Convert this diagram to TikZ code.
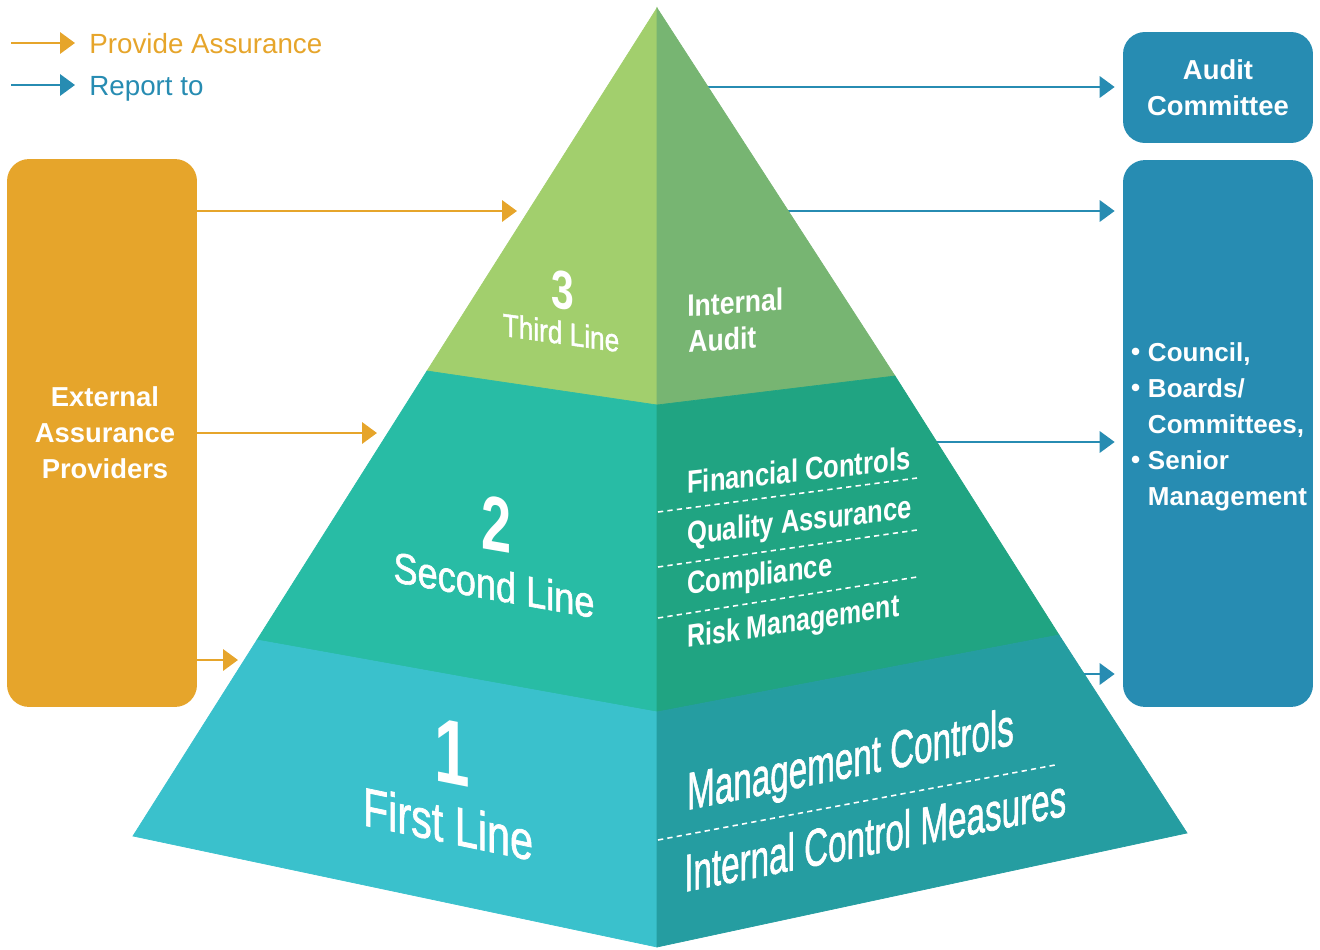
\documentclass[tikz,border=0pt]{standalone}
\usepackage{fontspec}
\setmainfont{Liberation Sans}
\newfontfamily\semibf[FakeBold=1.4]{Liberation Sans}
\usetikzlibrary{arrows.meta}
\definecolor{gThreeL}{HTML}{A2CF6D}
\definecolor{gThreeR}{HTML}{77B572}
\definecolor{gTwoL}{HTML}{28BCA5}
\definecolor{gTwoR}{HTML}{20A482}
\definecolor{gOneL}{HTML}{3AC1CC}
\definecolor{gOneR}{HTML}{259DA1}
\definecolor{orangeA}{HTML}{E6A52B}
\definecolor{blueA}{HTML}{278CB2}
\tikzset{
  oarr/.style={draw=orangeA, line width=1.7pt, -{Triangle[length=8.5pt,width=12pt]}},
  barr/.style={draw=blueA, line width=1.7pt, -{Triangle[length=8.5pt,width=12pt]}},
  rbox/.style={rounded corners=0.44cm, inner sep=0pt, text=white, align=center,
    font=\bfseries\fontsize{15.6}{20.5}\selectfont, minimum width=3.8cm},
  dline/.style={draw=white, line width=0.9pt, dash pattern=on 3pt off 2.4pt},
  wlbl/.style={text=white, inner sep=0pt},
  facepart/.style={line width=0.4pt}
}
\newcommand{\blt}{\makebox[0.65em][l]{\raisebox{0.05em}{•}}}
\newcommand{\bind}{\hspace*{0.65em}}
\begin{document}
\begin{tikzpicture}[x=0.02cm,y=-0.02cm]
\useasboundingbox (0,0) rectangle (1320,950);
% pyramid points
\coordinate (A) at (657,8);
\coordinate (L32) at (427,371);
\coordinate (C32) at (657,405);
\coordinate (R32) at (895,376);
\coordinate (L21) at (257,640);
\coordinate (C21) at (657,712);
\coordinate (R21) at (1059,635);
\coordinate (BL) at (133,836);
\coordinate (BC) at (657,947);
\coordinate (BR) at (1187,833);

% boxes
\node[rbox, fill=orangeA, minimum height=10.96cm] (ext) at (102,433) {};
\node[wlbl, align=center, font=\bfseries\fontsize{15.6}{20.5}\selectfont] (extt) at (105,433)
  {External\\Assurance\\Providers};
\node[rbox, fill=blueA, minimum height=2.22cm] (ac) at (1218,87.5)
  {Audit\\Committee};
\node[rbox, fill=blueA, minimum height=10.94cm] (cb) at (1218,433.5) {};
\node[wlbl, align=left, font=\bfseries\fontsize{14.8}{20.5}\selectfont] (cbt) at (1219,427)
  {\blt Council,\\\blt Boards/\\\bind Committees,\\\blt Senior\\\bind Management};

% arrow end / start points on the pyramid
\coordinate (o3) at (517,211);
\coordinate (o2) at (377,433);
\coordinate (o1) at (238,660);
\coordinate (b4) at (700,87);
\coordinate (b3) at (780,211);
\coordinate (b2) at (930,442);
\coordinate (b1) at (1078,674);

\draw[oarr] (ext.east |- o3) -- (o3);
\draw[oarr] (ext.east |- o2) -- (o2);
\draw[oarr] (ext.east |- o1) -- (o1);
\draw[barr, shorten >=0.16cm] (b4) -- (ac.west |- b4);
\draw[barr, shorten >=0.16cm] (b3) -- (cb.west |- b3);
\draw[barr, shorten >=0.16cm] (b2) -- (cb.west |- b2);
\draw[barr, shorten >=0.16cm] (b1) -- (cb.west |- b1);

% faces
\filldraw[facepart, fill=gThreeL, draw=gThreeL] (A) -- (L32) -- (C32) -- cycle;
\filldraw[facepart, fill=gThreeR, draw=gThreeR] (A) -- (C32) -- (R32) -- cycle;
\filldraw[facepart, fill=gTwoL, draw=gTwoL] (L32) -- (C32) -- (C21) -- (L21) -- cycle;
\filldraw[facepart, fill=gTwoR, draw=gTwoR] (C32) -- (R32) -- (R21) -- (C21) -- cycle;
\filldraw[facepart, fill=gOneL, draw=gOneL] (L21) -- (C21) -- (BC) -- (BL) -- cycle;
\filldraw[facepart, fill=gOneR, draw=gOneR] (C21) -- (R21) -- (BR) -- (BC) -- cycle;

% dashed lines
\coordinate (d1a) at (658,512); \coordinate (d1b) at (917,478);
\coordinate (d2a) at (658,567); \coordinate (d2b) at (917,530);
\coordinate (d3a) at (658,618); \coordinate (d3b) at (917,577);
\coordinate (d4a) at (658,840); \coordinate (d4b) at (1055,765);
\draw[dline] (d1a) -- (d1b);
\draw[dline] (d2a) -- (d2b);
\draw[dline] (d3a) -- (d3b);
\draw[dline] (d4a) -- (d4b);

% left face labels
\node[wlbl, font=\bfseries\fontsize{31}{31}\selectfont, yslant=-0.14, xscale=0.75] (n3) at (563,290) {3};
\node[wlbl, anchor=base, font=\semibf\fontsize{18.2}{20}\selectfont, yslant=-0.14, xscale=0.82] (tl3) at (561,344) {Third Line};
\node[wlbl, font=\bfseries\fontsize{44}{44}\selectfont, yslant=-0.17, xscale=0.7] (n2) at (497,524) {2};
\node[wlbl, anchor=base, font=\semibf\fontsize{24.5}{26}\selectfont, yslant=-0.18, xscale=0.84] (tl2) at (494,600) {Second Line};
\node[wlbl, font=\bfseries\fontsize{52}{52}\selectfont, yslant=-0.2, xscale=0.7] (n1) at (452,753) {1};
\node[wlbl, anchor=base, font=\semibf\fontsize{31}{32}\selectfont, yslant=-0.21, xscale=0.76] (tl1) at (448,843) {First Line};

% right face labels
\node[wlbl, anchor=base west, font=\bfseries\fontsize{17.6}{20}\selectfont, yslant=0.07, xscale=0.86] (ia1) at (687,317) {Internal};
\node[wlbl, anchor=base west, font=\bfseries\fontsize{17.6}{20}\selectfont, yslant=0.07, xscale=0.86] (ia2) at (688,353) {Audit};
\node[wlbl, anchor=base west, font=\bfseries\fontsize{18.2}{20}\selectfont, yslant=0.11, xscale=0.8] (fc) at (687,494) {Financial Controls};
\node[wlbl, anchor=base west, font=\bfseries\fontsize{18.2}{20}\selectfont, yslant=0.12, xscale=0.8] (qa) at (687,545) {Quality Assurance};
\node[wlbl, anchor=base west, font=\bfseries\fontsize{18.2}{20}\selectfont, yslant=0.13, xscale=0.8] (co) at (687,595) {Compliance};
\node[wlbl, anchor=base west, font=\bfseries\fontsize{18.2}{20}\selectfont, yslant=0.15, xscale=0.78] (rm) at (687,648) {Risk Management};
\node[wlbl, anchor=base west, font=\semibf\fontsize{30}{32}\selectfont, yslant=0.2, xscale=0.63] (mc) at (687,810) {Management Controls};
\node[wlbl, anchor=base west, font=\semibf\fontsize{30}{32}\selectfont, yslant=0.2, xscale=0.63] (icm) at (684,892) {Internal Control Measures};

% legend
\node[inner sep=0pt, anchor=base west, text=orangeA, font=\fontsize{15.8}{18}\selectfont] (lgo) at (89,53) {Provide Assurance};
\node[inner sep=0pt, anchor=base west, text=blueA, font=\fontsize{15.8}{18}\selectfont] (lgb) at (89,95) {Report to};
\coordinate (lo1) at (11,43); \coordinate (lo2) at (75,43);
\coordinate (lb1) at (11,85); \coordinate (lb2) at (75,85);
\draw[oarr] (lo1) -- (lo2);
\draw[barr] (lb1) -- (lb2);
\end{tikzpicture}
\end{document}
